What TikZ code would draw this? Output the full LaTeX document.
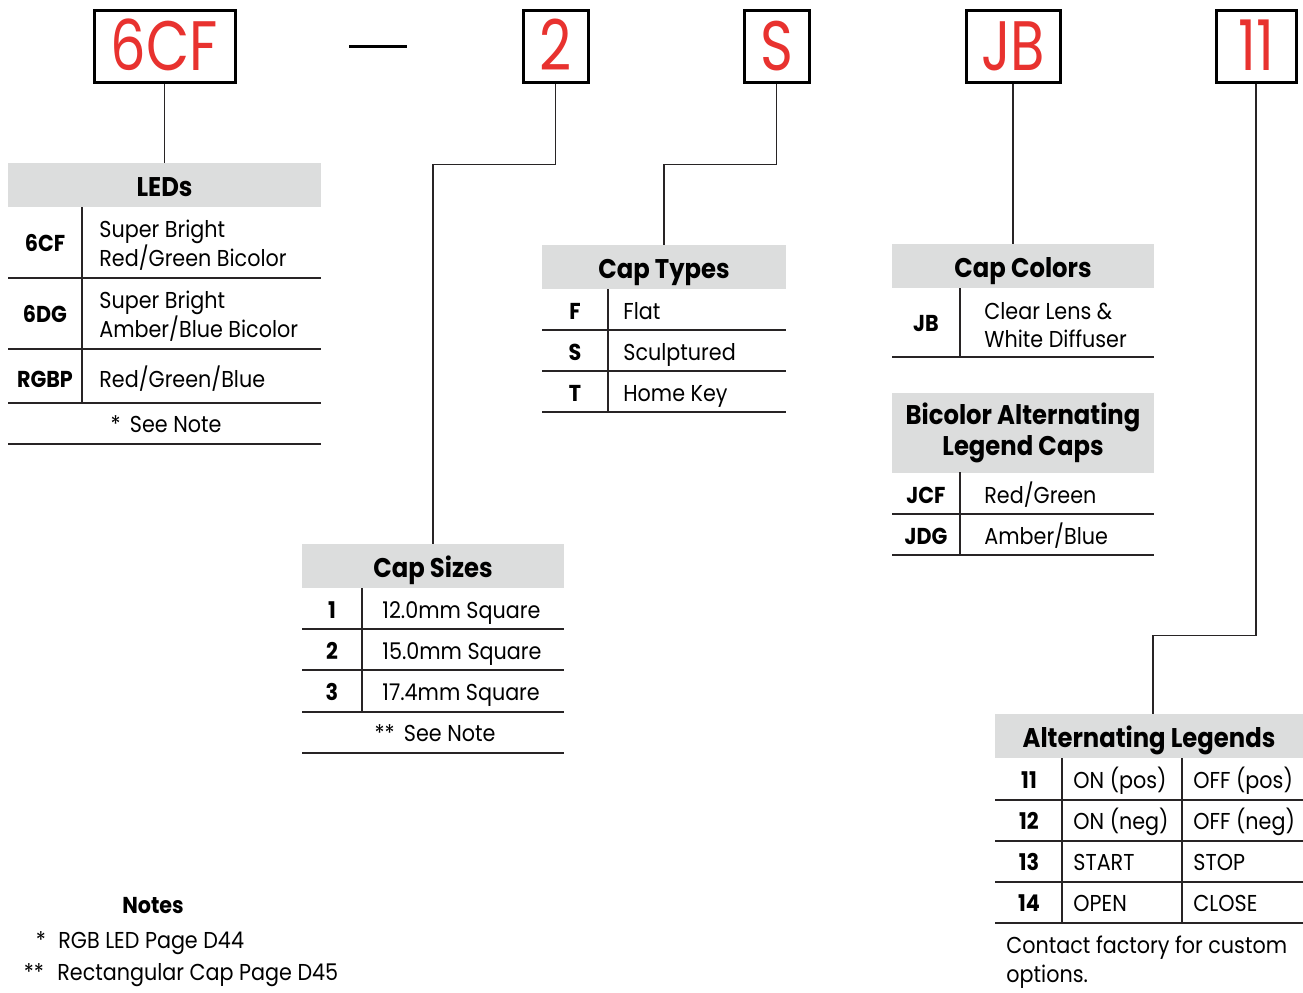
\documentclass[tikz,border=0pt]{standalone}
\usepackage{fontspec}
\setmainfont{Poppins}[FakeStretch=0.9]
\newfontfamily\codefont{Poppins}[FakeStretch=0.8]
\definecolor{codered}{RGB}{232,50,47}
\definecolor{headgray}{RGB}{220,221,221}
\definecolor{rulegray}{RGB}{40,36,37}

\tikzset{
  codebox/.style={draw=black, line width=1.5pt, text=codered, inner sep=0pt,
    font=\codefont\fontsize{35}{35}\selectfont, text height=24.5pt, text depth=0pt},
  headbox/.style={fill=headgray, inner sep=0pt, align=center,
    font=\bfseries\fontsize{13.5}{15.5}\selectfont},
  headone/.style={headbox, minimum height=22pt, text height=15pt, text depth=4pt},
  cell/.style={anchor=base west, inner sep=0pt, font=\fontsize{11.5}{14}\selectfont},
  keycell/.style={anchor=base, inner sep=0pt, font=\bfseries\fontsize{11.5}{14}\selectfont},
  note/.style={anchor=base, inner sep=0pt, font=\fontsize{11.5}{14}\selectfont},
  rowline/.style={draw=rulegray, line width=0.8pt},
  link/.style={draw=rulegray, line width=0.65pt}
}

\begin{document}
\begin{tikzpicture}[x=0.5pt,y=-0.5pt]
    \useasboundingbox (0,0) rectangle (1303,992);
    % Code boxes
    \node[codebox, minimum width=70.5pt, minimum height=36pt] (k6cf) at (164.5,46) {6CF};
    \draw[line width=1.5pt] (349,46) -- (407,46);
    \node[codebox, minimum width=32.5pt, minimum height=36pt] (k2) at (555.5,46) {2};
    \node[codebox, minimum width=32.5pt, minimum height=36pt] (kS) at (776.5,46) {S};
    \node[codebox, minimum width=47pt, minimum height=36pt] (kJB) at (1013,46) {JB};
    \node[codebox, minimum width=40pt, minimum height=36pt] (k11) at (1256,46) {11};

    % Headers
    \node[headone, minimum width=156.5pt] (leds) at (164.5,185) {LEDs};
    \node[headone, minimum width=122pt] (types) at (664,267) {Cap Types};
    \node[headone, minimum width=131pt] (colors) at (1023,266) {Cap Colors};
    \node[headbox, minimum width=131pt, minimum height=40pt] (bicolor) at (1023,433) {Bicolor Alternating\\Legend Caps};
    \node[headone, minimum width=131pt] (sizes) at (433,566) {Cap Sizes};
    \node[headone, minimum width=154pt] (alt) at (1149,736) {Alternating Legends};

    % Connectors
    \draw[link] (k6cf.south) -- (leds.north);
    \draw[link] (k2.south) -- ++(0,81) -| (sizes.north);
    \draw[link] (kS.south) -- ++(0,81) -| (types.north);
    \draw[link] (kJB.south) -- (kJB.south |- colors.north);
    \draw[link] (k11.south) -- ++(0,552) -| ([xshift=2pt]alt.north);

    % LEDs
    \foreach \y in {278,349,403,444}
        \draw[rowline] (8,\y) -- (321,\y);
    \draw[link] (82,207) -- (82,403);
    \node[keycell] (l6cf) at (45,251) {6CF};
    \node[cell] (l6cfa) at (99,237) {Super Bright};
    \node[cell] (l6cfb) at (99,266) {Red/Green Bicolor};
    \node[keycell] (l6dg) at (45,322) {6DG};
    \node[cell] (l6dga) at (99,308) {Super Bright};
    \node[cell] (l6dgb) at (99,337) {Amber/Blue Bicolor};
    \node[keycell] (lrgbp) at (45,387) {RGBP};
    \node[cell] (lrgbpa) at (99,387) {Red/Green/Blue};
    \node[note] (lnote) at (166,432) {*\, See Note};

    % Cap Types
    \foreach \y in {330,371,412}
        \draw[rowline] (542,\y) -- (786,\y);
    \draw[link] (608,289) -- (608,412);
    \node[keycell] (tf) at (575,319) {F};
    \node[cell] (tfa) at (623,319) {Flat};
    \node[keycell] (ts) at (575,360) {S};
    \node[cell] (tsa) at (623,360) {Sculptured};
    \node[keycell] (tt) at (575,401) {T};
    \node[cell] (tta) at (623,401) {Home Key};

    % Cap Colors
    \draw[rowline] (892,357) -- (1154,357);
    \draw[link] (960,288) -- (960,357);
    \node[keycell] (cjb) at (926,331) {JB};
    \node[cell] (cjba) at (984,319) {Clear Lens \&};
    \node[cell] (cjbb) at (984,347) {White Diffuser};

    % Bicolor
    \foreach \y in {514,555}
        \draw[rowline] (892,\y) -- (1154,\y);
    \draw[link] (960,472) -- (960,555);
    \node[keycell] (bjcf) at (926,503) {JCF};
    \node[cell] (bjcfa) at (984,503) {Red/Green};
    \node[keycell] (bjdg) at (926,544) {JDG};
    \node[cell] (bjdga) at (984,544) {Amber/Blue};

    % Cap Sizes
    \foreach \y in {629,670,712,753}
        \draw[rowline] (302,\y) -- (564,\y);
    \draw[link] (362,588) -- (362,712);
    \foreach \k/\t/\y in {1/12.0/618, 2/15.0/659, 3/17.4/700}{
        \node[keycell] (s\k) at (332,\y) {\k};
        \node[cell] (s\k a) at (382,\y) {\t mm Square};
    }
    \node[note] (snote) at (435,741) {**\, See Note};

    % Alternating Legends
    \foreach \y in {800,841,882,923}
        \draw[rowline] (995,\y) -- (1303,\y);
    \draw[link] (1062,758) -- (1062,923);
    \draw[link] (1182,758) -- (1182,923);
    \foreach \k/\a/\b/\y in {11/ON (pos)/OFF (pos)/788, 12/ON (neg)/OFF (neg)/829,
                             13/START/STOP/870, 14/OPEN/CLOSE/911}{
        \node[keycell] (a\k) at (1029,\y) {\k};
        \node[cell] (a\k a) at (1073,\y) {\a};
        \node[cell] (a\k b) at (1193,\y) {\b};
    }
    \node[cell] (contact) at (1006,953) {Contact factory for custom};
    \node[cell] (contactb) at (1006,982) {options.};

    % Notes
    \node[keycell] (notes) at (153,913) {Notes};
    \node[note] (n1) at (41,948) {*};
    \node[cell] (n1a) at (58,948) {RGB LED Page D44};
    \node[note] (n2) at (34,980) {**};
    \node[cell] (n2a) at (57,980) {Rectangular Cap Page D45};
\end{tikzpicture}
\end{document}
